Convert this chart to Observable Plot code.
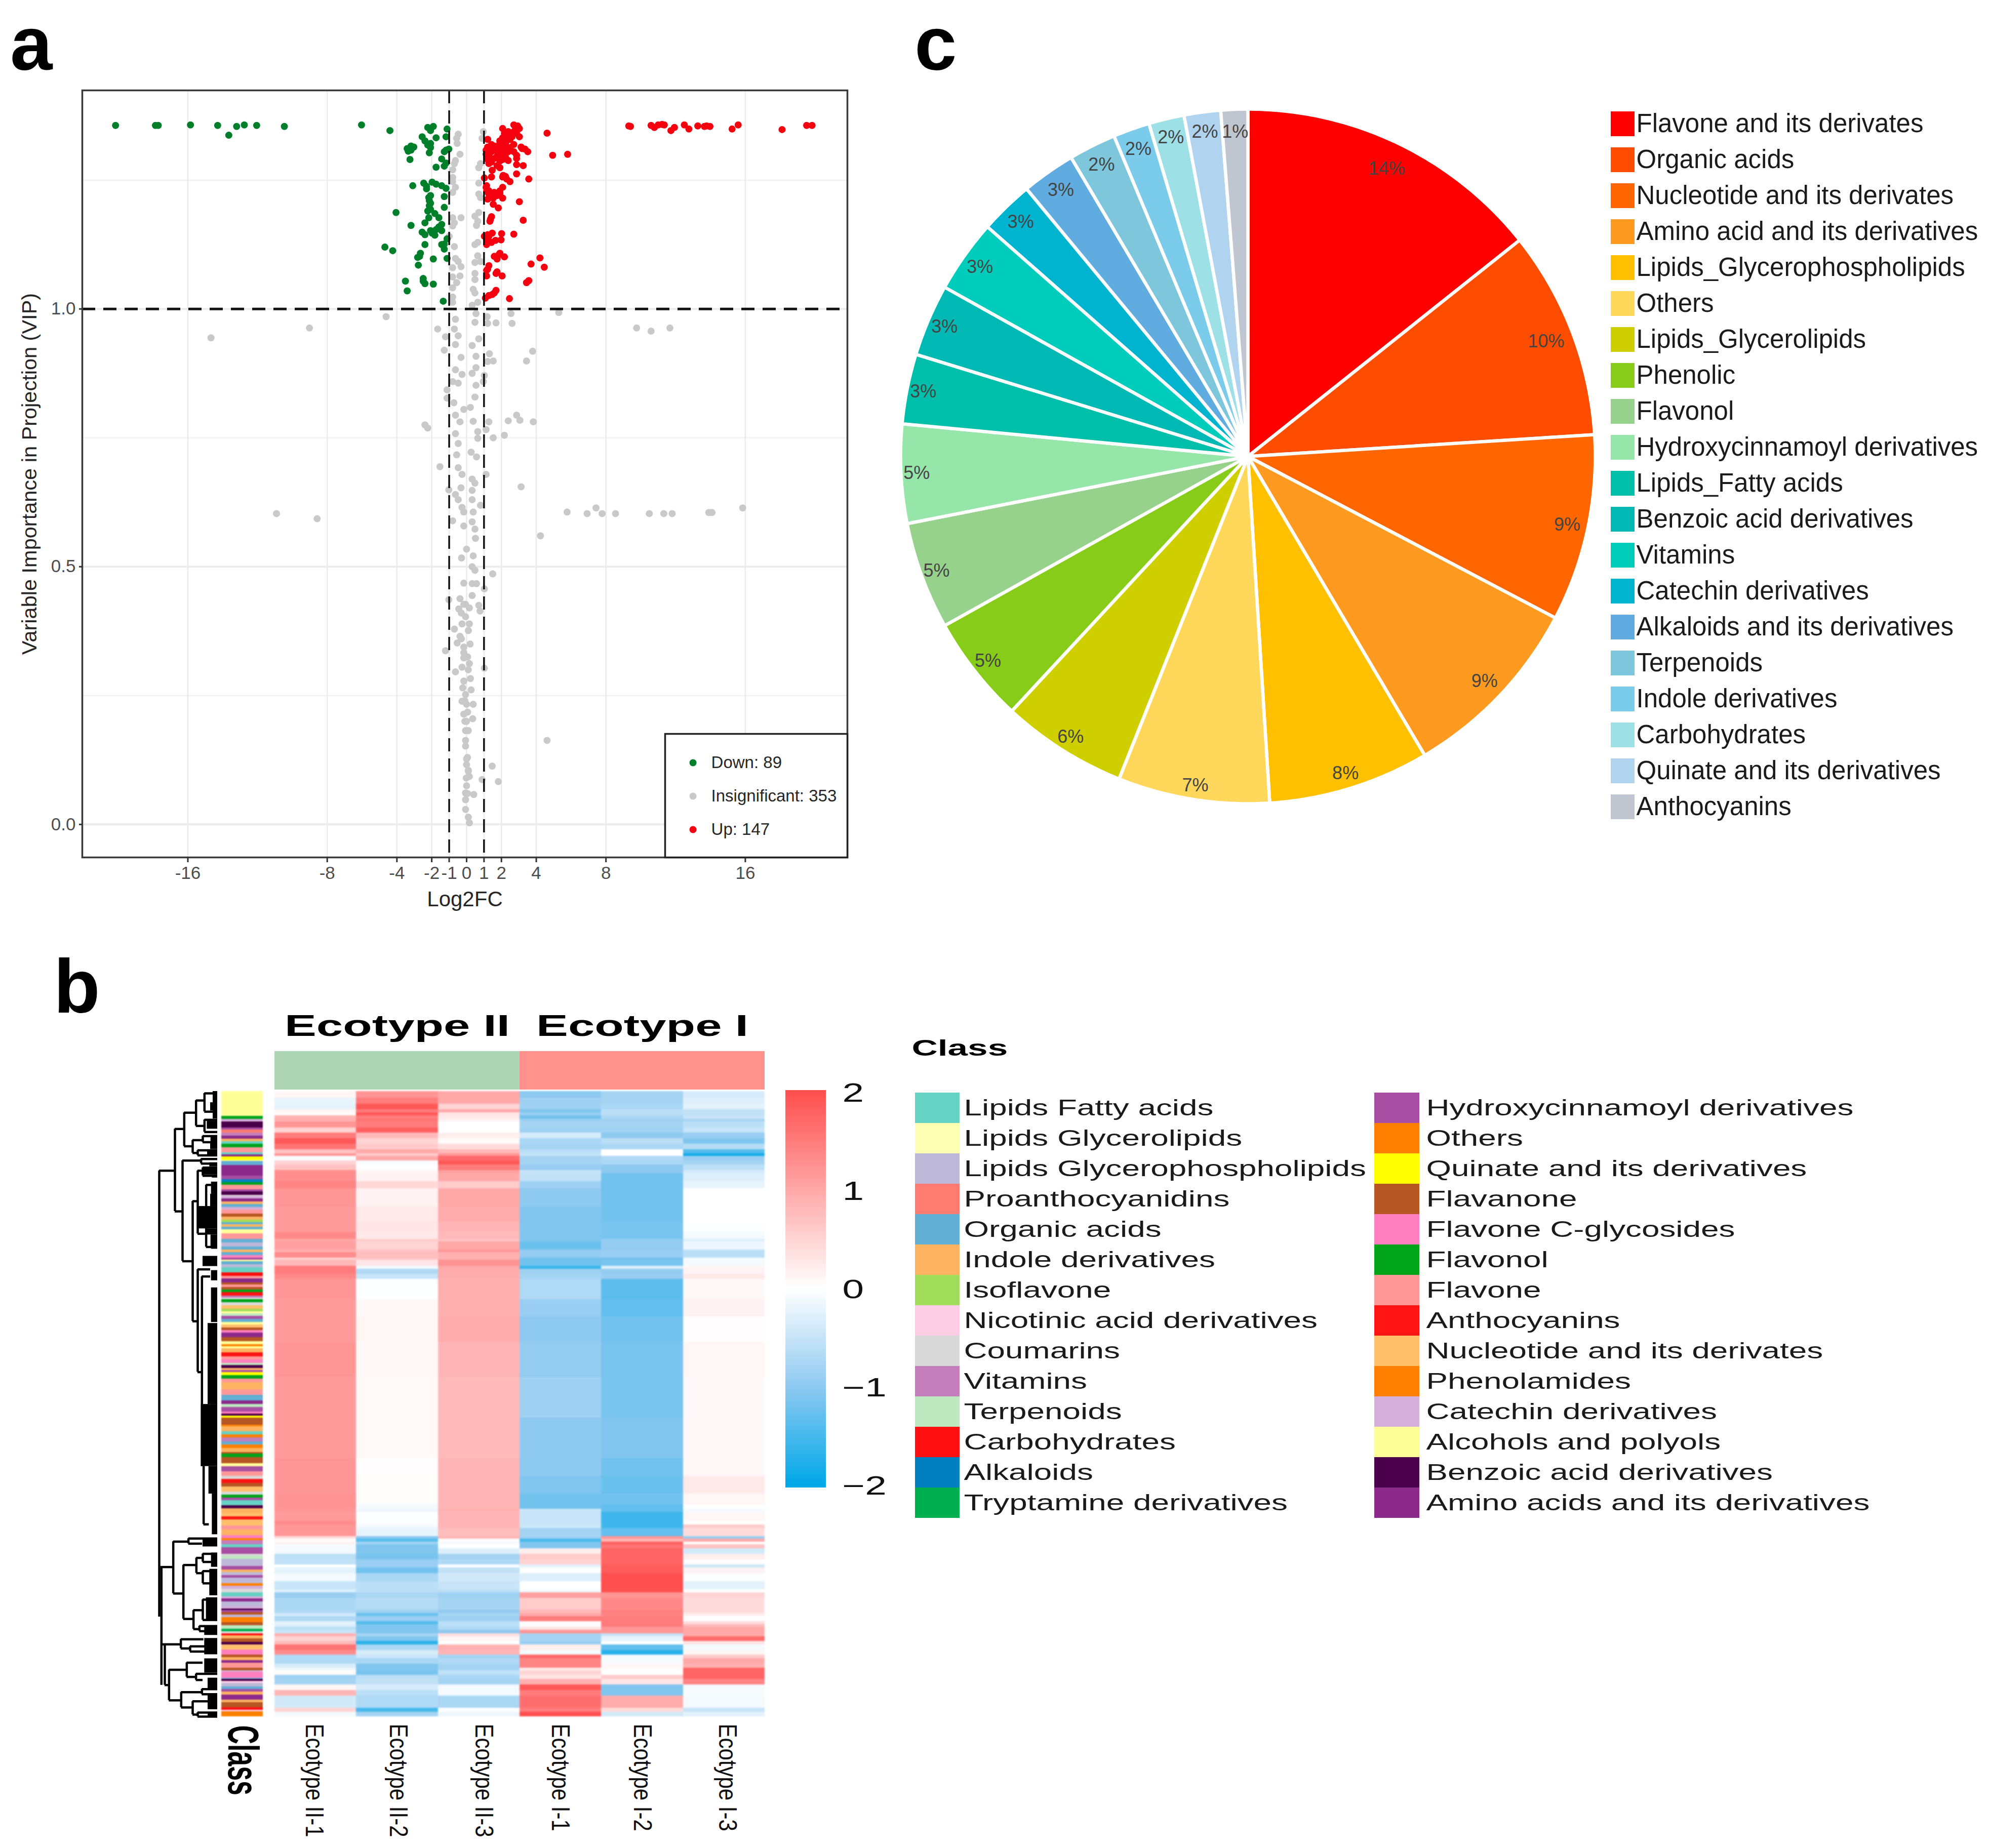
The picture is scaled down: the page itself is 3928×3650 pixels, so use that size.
<!DOCTYPE html>
<html>
<head>
<meta charset="utf-8">
<script src="https://cdn.jsdelivr.net/npm/d3@7"></script>
<script src="https://cdn.jsdelivr.net/npm/@observablehq/plot@0.6"></script>
<style>
html,body{margin:0;padding:0;background:#fff}
#page{position:relative;width:3928px;height:3650px;overflow:hidden;background:#fff;font-family:"Liberation Sans",Arial,sans-serif}
#page>*{position:absolute}
.panel{font-weight:700;font-size:150px;line-height:.68;color:#000}
</style>
</head>
<body>
<div id="page"></div>
<script>
/* ---------- panel a: volcano ---------- */
const xTicks = [-16,-8,-4,-2,-1,0,1,2,4,8,16];
const yTicks = [0,0.5,1];
const yMinor = [0.25,0.75,1.25];
const volcanoLegend = ["Down: 89","Insignificant: 353","Up: 147"];
const volcanoColors = ["#007f2a","#c9c9c9","#f5000f"];
const down = [[-20.15,1.356],[-17.86,1.356],[-17.7,1.356],[-15.85,1.357],[-14.29,1.356],[-13.2,1.354],[-12.76,1.357],[-12.05,1.356],[-10.46,1.354],[-6.03,1.357],[-4.4,1.346],[-13.65,1.337],
[-2.23,1.352],[-1.91,1.354],[-2.07,1.346],[-1.12,1.349],[-2.55,1.334],[-1.75,1.332],[-1.18,1.334],[-2.39,1.326],[-2.07,1.321],[-3.19,1.316],[-3.41,1.311],[-3.03,1.314],[-3.35,1.306],[-2.07,1.313],[-2.14,1.303],[-1.02,1.31],[-1.28,1.305],[-3.25,1.29],[-1.43,1.291],[-1.18,1.283],[-1.28,1.277],[-1.75,1.275],[-3.09,1.239],[-2.46,1.244],[-1.98,1.246],[-1.75,1.242],[-1.43,1.239],[-1.18,1.234],[-2.3,1.233],[-1.28,1.218],[-2.07,1.22],[-2.14,1.21],[-2.14,1.2],[-1.28,1.197],[-2.07,1.193],[-4.05,1.187],[-1.82,1.185],[-1.59,1.177],[-2.17,1.177],[-2.39,1.167],[-3.19,1.162],[-1.43,1.164],[-1.75,1.154],[-2.07,1.152],[-2.55,1.149],[-1.43,1.152],[-2.39,1.144],[-1.82,1.143],[-1.12,1.136],[-2.39,1.125],[-1.43,1.125],[-1.28,1.116],[-4.69,1.12],[-4.24,1.113],[-2.65,1.108],[-2.81,1.1],[-1.91,1.097],[-1.12,1.098],[-2.77,1.085],[-3.51,1.054],[-2.49,1.059],[-2.39,1.049],[-1.91,1.048],[-3.41,1.035],[-1.34,1.015],
[-2.17,1.216],[-2.07,1.205],[-2.23,1.19],[-1.59,1.159],[-1.98,1.147],[-2.7,1.102],[-2.49,1.054],[-1.28,1.126],[-2.3,1.238],[-1.18,1.308],[-3.19,1.308],[-2.23,1.318]];
const up = [[9.31,1.355],[9.41,1.354],[10.59,1.356],[10.78,1.352],[11.0,1.357],[11.22,1.358],[11.35,1.357],[11.73,1.346],[11.93,1.352],[12.5,1.357],[12.76,1.349],[13.27,1.355],[13.65,1.354],[13.78,1.355],[13.97,1.354],[15.24,1.349],[15.59,1.357],[18.11,1.348],[19.52,1.356],[19.83,1.356],
[2.71,1.357],[2.93,1.355],[2.81,1.349],[3.03,1.35],[2.07,1.35],[2.39,1.344],[2.17,1.341],[2.87,1.341],[3.03,1.334],[2.61,1.334],[2.07,1.332],[2.3,1.326],[4.62,1.341],[1.21,1.329],[2.49,1.329],[1.91,1.321],[1.43,1.319],[1.21,1.314],[1.66,1.311],[2.07,1.311],[2.49,1.313],[3.13,1.314],[3.35,1.31],[3.51,1.305],[1.12,1.308],[1.43,1.305],[1.91,1.303],[2.39,1.305],[2.87,1.298],[2.87,1.292],[4.94,1.298],[5.8,1.3],[1.28,1.298],[1.75,1.296],[2.23,1.295],[1.21,1.29],[1.91,1.287],[2.39,1.288],[1.28,1.282],[1.75,1.278],[2.87,1.28],[3.25,1.278],[1.47,1.269],[1.91,1.274],[2.87,1.262],[2.1,1.259],[1.43,1.256],[2.3,1.252],[2.49,1.247],[3.57,1.252],[1.02,1.254],[1.15,1.239],[2.07,1.236],[1.91,1.229],[1.15,1.228],[1.59,1.226],[1.28,1.223],[1.75,1.22],[2.07,1.215],[1.53,1.215],[1.21,1.213],[3.03,1.208],[1.53,1.203],[1.82,1.196],[1.37,1.174],[3.25,1.172],[1.21,1.144],[2.01,1.146],[2.71,1.145],[1.02,1.141],[1.66,1.133],[1.98,1.134],[1.21,1.131],[1.15,1.125],[1.85,1.105],[1.59,1.102],[2.17,1.101],[4.21,1.099],[3.7,1.087],[4.46,1.081],[1.28,1.084],[1.15,1.075],[1.69,1.069],[2.04,1.064],[1.15,1.064],[3.57,1.055],[1.69,1.036],[1.47,1.028],[1.08,1.021],[2.46,1.02],
[2.55,1.339],[2.71,1.344],[2.39,1.337],[2.23,1.331],[1.91,1.326],[1.59,1.316],[2.23,1.319],[2.71,1.319],[1.75,1.306],[2.07,1.301],[1.59,1.292],[1.43,1.285],[2.07,1.29],[1.12,1.3],[1.34,1.31],[2.71,1.305],[2.23,1.308],[1.85,1.314],[2.07,1.256],[2.23,1.257],[1.28,1.229],[1.43,1.218],[1.91,1.224],[1.12,1.236],[1.34,1.17],[1.43,1.179],[1.28,1.141],[1.47,1.147],[1.43,1.129],[1.91,1.108],[1.75,1.097],[1.21,1.077],[1.75,1.072],[1.59,1.031],[1.28,1.026],[3.44,1.051],[3.19,1.311]];
const insignificant = [[-.48,1.339],[-.57,1.331],[-.54,1.321],[.96,1.344],[.89,1.331],[-.38,1.3],[-.64,1.288],[-.7,1.282],[.8,1.282],[.7,1.274],[-.8,1.27],[-.8,1.255],[-.8,1.247],[.7,1.244],[-.64,1.236],[-.8,1.226],[.7,1.223],[.8,1.216],[-.8,1.177],[-.32,1.177],[.48,1.18],[.7,1.187],[.64,1.17],[.57,1.162],[-.7,1.167],[-.8,1.161],[-1,1.141],[.64,1.129],[.48,1.125],[-.7,1.121],[.64,1.103],[-.64,1.098],[-.48,1.092],[.48,1.09],[.8,1.092],[-.8,1.08],[-.32,1.082],[-.8,1.062],[-.38,1.064],[.48,1.069],[.48,1.057],[-.57,1.051],[-.8,1.041],[.38,1.038],[.48,1.031],[-.8,1.023],[-.8,1.013],[.64,1.013],[.32,1.007],
[5.29,.993],[-4.62,.985],[-9.02,.963],[-14.67,.944],[9.76,.963],[10.59,.957],[11.67,.963],[2.55,.991],[2.61,.972],[1.69,.973],[1.21,.972],[1.18,.985],[.54,.991],[.48,.974],[-.64,.98],[-1.66,.961],[-.7,.961],[-.48,.948],[-1.21,.946],[-.64,.931],[.32,.929],[.7,.942],[-1.28,.92],[-.32,.906],[.54,.908],[1.31,.913],[1.21,.898],[1.53,.899],[3.44,.899],[3.79,.918],[-.64,.882],[-.26,.873],[.32,.875],[.54,.886],[1.02,.871],[.96,.859],[.54,.852],[-.8,.859],[-.48,.856],[-1.12,.843],[-1.12,.827],[.48,.829],[-.73,.818],[-.16,.805],[.22,.809],[-.64,.794],[-.38,.781],[.38,.782],[1.28,.781],[2.39,.783],[2.87,.794],[3.06,.784],[3.83,.781],[-2.39,.775],[-2.23,.769],[1.12,.766],[.64,.762],[-.64,.758],[.64,.749],[1.53,.75],[2.17,.755],[-.48,.739],[-.57,.717],[.26,.722],[.57,.713],[-1.53,.694],[-.48,.692],[-.26,.679],[1.12,.679],[.32,.67],[.48,.662],[3.13,.655],[-1.02,.649],[-.32,.653],[.32,.648],[-.64,.64],[-.48,.63],[.32,.63],[.8,.619],[-.26,.615],[.38,.606],[-.16,.606],[5.77,.606],[6.92,.603],[7.43,.614],[7.78,.603],[8.55,.603],[10.49,.603],[11.32,.603],[11.8,.603],[13.9,.605],[14.09,.605],[15.85,.614],[-10.91,.603],[-8.58,.593],[-.8,.589],[.32,.587],[-.16,.579],[.48,.573],[4.24,.56],[.51,.555],[0,.534],[.38,.521],[-.29,.517],[.32,.5],[.48,.493],[1.5,.486],[-.16,.468],[.32,.467],[.57,.467],[1.02,.457],[-1.02,.436],[-.38,.438],[.32,.444],[-.16,.427],
[-.06,.427],[-.45,.418],[.7,.425],[.77,.414],[.16,.42],[-.06,.403],[-.26,.389],[.16,.389],[-.7,.379],[.1,.376],[-.38,.365],[-.54,.352],[-.16,.344],[-1.21,.337],[-.16,.333],[.06,.325],[-.16,.323],[.16,.312],[-.26,.305],[1.02,.303],[-.64,.296],[.22,.283],[-.16,.278],[-.22,.265],[.26,.261],[-.06,.252],[-.26,.239],[.38,.233],[0,.233],[-.16,.214],[.06,.218],[.35,.205],[0,.2],[-.06,.182],[.1,.182],[-.06,.163],[-.06,.152],[4.62,.163],[0,.127],[0,.116],[1.47,.113],[.1,.103],[.16,.093],[.89,.087],[1.82,.083],[0,.075],[-.06,.061],[.41,.058],[-.06,.048],[-.06,.029],[.1,.014],[.16,.003],
[-.1,.24],[.1,.3],[-.3,.36],[.05,.13],[.05,.06],[-.1,.2],[.2,.35],[-.3,.41],[.1,.105],[-.02,.09]];

/* ---------- panel c: pie ---------- */
const pieNames = ["Flavone and its derivates","Organic acids","Nucleotide and its derivates","Amino acid and its derivatives","Lipids_Glycerophospholipids","Others","Lipids_Glycerolipids","Phenolic","Flavonol","Hydroxycinnamoyl derivatives","Lipids_Fatty acids","Benzoic acid derivatives","Vitamins","Catechin derivatives","Alkaloids and its derivatives","Terpenoids","Indole derivatives","Carbohydrates","Quinate and its derivatives","Anthocyanins"];
const pieValues = [14.3,9.7,8.7,8.8,7.5,7.05,5.85,5,5,4.6,3.25,3.35,3.4,2.5,2.5,2.2,1.7,1.65,1.7,1.25];
const pieLabels = ["14%","10%","9%","9%","8%","7%","6%","5%","5%","5%","3%","3%","3%","3%","3%","2%","2%","2%","2%","1%"];
const pieLabelRadius = [.92,.92,.94,.94,.955,.96,.955,.952,.955,.955,.953,.95,.945,.94,.937,.94,.94,.945,.943,.935];
const pieColors = ["#ff0000","#ff4d00","#ff6600","#ff9a20","#ffc000","#ffd75a","#cfcf00","#88cc1a","#96d28c","#96e6aa","#00bfaa","#00b9b4","#00ccbb","#00b4d0","#60ace0","#7ec6dc","#7accea","#9de0e6","#b0d4f0","#c0c6d0"];

/* ---------- panel b: heat map ---------- */
const sampleNames = ["Ecotype II-1","Ecotype II-2","Ecotype II-3","Ecotype I-1","Ecotype I-2","Ecotype I-3"];
const sampleLabelShift = [-.02,.01,.056,-.01,0,.04];
const groupNames = ["Ecotype II","Ecotype I"];
const groupSpans = [[0,3],[3,6]];
const groupColors = ["#aed6b6","#ff928c"];
const heatColors = ["#00a8e8","#8ec9f0","#ffffff","#ffa8a8","#ff4f4f"];
const heatDomain = [-2,-1,0,1,2];
const scaleTicks = [2,1,0,-1,-2];
/* each row: last row index of the band, then the six sample z-scores */
const heatRowsUpper = [
[55,.1,1.2,1,-1,-.8,-.35],[90,-.2,1.5,1,-.85,-.8,-.3],[122,-.25,1.9,.5,-.85,-.75,-.25],[140,.1,1.5,1,-1.1,-.6,-.55],[158,.05,1.9,.3,-.9,-.6,-.55],[180,.9,1.5,.25,-1.2,-.75,-.5],[195,.9,1.6,.15,-.85,-.85,-.8],[230,1.2,1.5,0,-.8,-.8,-.6],[262,.5,1.8,0,-.85,-.85,-.5],[295,1.5,.8,.2,-.35,-1,-.9],[327,1.9,.5,.05,-.75,-.6,-1.1],[360,1.6,.6,.4,-.8,-.75,-.65],[385,.7,1,.8,-.6,0,-1.4],[400,1.2,.6,1.2,-.5,0,-1.9],[425,-.05,1,1.7,-.8,-.7,-.9],[450,.5,-.05,1.9,-.8,-.75,-.8],[482,.7,0,1.5,-.9,-1,-.6],[500,1.3,.1,1.1,-.5,-1,-.4],[548,1.3,.15,1,-.55,-1.2,-.3],[590,1.4,.45,.6,-.85,-1.2,-.2],[700,1.2,.15,1,-1,-1.2,0],[790,1.15,.25,.95,-1.1,-1.2,0],[850,1.15,.3,.85,-1.1,-1.15,-.02],[890,1.35,.25,.8,-1.1,-1.15,-.1],[905,1,.6,.7,-1.1,-.95,-.3],[955,1.1,.5,1,-1.25,-.95,-.15],[970,.9,.7,1.2,-.95,-.9,-.6],[1003,1.3,.75,.9,-.95,-.9,-.6],[1015,.5,.7,.9,-1.2,-1.2,-.1],[1050,.8,.3,1.25,-1.2,-1.15,-.1],[1068,1.5,-.1,1,-1.6,-.3,.1],[1098,1.5,-.7,.95,-.85,-.95,.15],[1128,1.35,-.5,.95,-.8,-.9,.25],[1250,1.2,-.02,.9,-.7,-1.35,.08],[1350,1.15,.08,.9,-.9,-1.3,.15],[1500,1.15,.1,.95,-1,-1.2,.02],
[1710,1.2,.08,.85,-.95,-1.15,.1],[1950,1.15,.07,.8,-.85,-1.15,.08],[2190,1.15,.07,.8,-1,-1.1,.08],[2295,1.2,.02,.85,-1,-1.2,.08],[2400,1.2,.03,.85,-1.1,-1.25,.25],[2463,1.25,.03,.85,-1.2,-1.2,.1],[2490,1.25,-.1,.85,-1.2,-1.3,0]];
const heatRowsLower = [
[2510,1.2,-.15,.9,-.45,-1.3,-.1],[2560,1.15,-.02,.85,-.5,-1.55,.1],[2585,1.3,-.03,.85,-.5,-1.55,0],[2605,1.2,-.1,.85,-.45,-1.55,.6],[2652,1.2,-.2,.75,-.8,-1.3,.4],[2668,.4,-1,.85,-.85,1.2,-.9],[2685,.05,-1.4,-.02,-1.5,.85,1],[2702,.15,-.8,-.1,-1.1,1.8,0],[2725,-.1,-1.1,0,-1.1,1.6,.7],[2758,-.1,-1.1,-.3,.2,1.75,-.4],[2790,-.6,-1.15,-.8,.6,1.75,.2],[2822,-.55,-.9,-.7,.5,1.75,.02],[2840,0,-.9,-.05,-.25,1.85,-.45],[2872,-.25,-1.2,-.55,0,1.85,.15],[2922,-.1,-.75,-.4,-.3,2,-.02],[2970,-.5,-.6,-.5,0,2,-.25],[2987,-.3,-.6,-.6,-.1,2,0],[3020,-.9,-.75,-.85,1.1,1.2,.5],[3090,-.75,-.65,-.8,.6,1.35,.4],[3110,-.7,-.85,-.95,.8,1.45,.4],[3127,-.4,-1.25,-.8,1,1.4,.2],[3158,-.7,-.9,-.85,1.5,1.5,-.02],[3175,-.25,-1.4,-.6,.05,1.5,.4],[3190,-.3,-1.1,-.6,-.02,1.5,.8],[3208,-.6,-1.1,-.7,.3,1.2,1],[3230,-.5,-1.1,-1,1.2,1.2,1],[3248,.9,-.8,.4,-.8,-.5,1],[3275,.5,-1.1,.1,-.8,-.2,1.7],[3296,.8,-1.7,0,-.9,0,.3],[3328,1.6,-.75,.9,.2,-1.3,-.1],[3355,1.3,-.35,.85,-.1,-1.7,.1],[3378,-.7,-.45,-.8,1.7,-.1,.6],[3410,-.7,-.75,-.7,1.4,-.08,1],[3435,-.35,-1.1,-.8,1.4,.1,.9],[3450,-.15,-1.1,-.8,.2,.05,1.75],[3475,.05,-1.15,-.55,.5,0,1.75],[3500,-.85,-.6,-.75,.3,.6,1.75],[3533,-.8,-.55,-.8,.9,.3,1.4],[3565,.1,-.35,-.1,1.9,-1.1,-.08],[3598,.85,-.6,-.1,1.5,-1.1,-.05],[3670,-.4,-.7,-.75,1.65,.95,-.1],[3695,.5,-1.5,-.02,1.5,.4,-.5],[3722,-.1,-.8,-.15,2,-.4,-.25]];
const heatFirstRow = 15;

/* ---------- class annotation ---------- */
const classNames = ["Lipids Fatty acids","Lipids Glycerolipids","Lipids Glycerophospholipids","Proanthocyanidins","Organic acids","Indole derivatives","Isoflavone","Nicotinic acid derivatives","Coumarins","Vitamins","Terpenoids","Carbohydrates","Alkaloids","Tryptamine derivatives","Hydroxycinnamoyl derivatives","Others","Quinate and its derivatives","Flavanone","Flavone C-glycosides","Flavonol","Flavone","Anthocyanins","Nucleotide and its derivates","Phenolamides","Catechin derivatives","Alcohols and polyols","Benzoic acid derivatives","Amino acids and its derivatives"];
const classColors = ["#66d2c4","#ffffb3","#bdb8d8","#fd7b70","#62afd4","#fdb462","#a1dc5a","#fccde5","#d9d9d9","#c37ebb","#bde8c0","#ff1010","#0080c0","#00b050","#a84ea3","#ff7f00","#ffff00","#b65623","#ff7fbf","#00a41a","#ff9999","#ff1414","#ffbf6b","#ff8000","#d4afd9","#ffff99","#4a004a","#8b2a8b"];
/* [last row index of the stripe, class index] */
const classStripes = [[138,25],[152,19],[165,24],[195,26],[205,14],[220,3],[235,9],[248,27],[262,5],[275,0],[290,19],[315,20],[325,0],[337,27],[353,16],[358,25],[378,4],[430,27],[448,14],[462,12],[475,19],[497,20],[508,14],[525,26],[530,8],[543,24],[557,27],[570,5],[585,4],[598,24],[618,20],[632,17],[647,5],[660,6],[670,4],[682,5],[695,4],[715,25],[742,20],[760,4],[780,2],[793,4],[806,5],[820,4],[833,18],[843,14],[852,25],[866,4],[882,2],[906,0],[922,11],[935,20],[955,27],[965,17],[978,20],[990,17],[1004,19],[1020,21],[1030,9],[1038,8],[1053,19],[1068,8],[1085,22],[1097,6],[1108,25],[1120,10],[1135,14],[1150,4],[1162,25],[1177,22],[1190,17],[1203,18],[1225,27],[1245,17],[1258,25],[1268,15],[1280,25],[1300,5],[1318,21],[1335,20],[1350,18],[1362,10],[1375,26],[1385,5],[1397,14],[1412,16],[1428,19],[1445,20],[1480,5],[1508,20],[1535,4],[1553,27],
[1567,10],[1591,14],[1601,18],[1609,26],[1619,16],[1635,17],[1655,17],[1663,23],[1688,5],[1703,0],[1716,23],[1736,9],[1751,4],[1768,23],[1788,5],[1796,17],[1813,19],[1845,17],[1859,25],[1883,14],[1905,20],[1921,8],[1941,21],[1958,17],[1983,22],[1998,8],[2013,19],[2026,14],[2051,0],[2065,26],[2088,5],[2105,22],[2121,21],[2151,22],[2171,20],[2196,5],[2211,18],[2223,23],[2243,9],[2256,0],[2290,14],[2298,8],[2313,10],[2350,2],[2366,14],[2378,5],[2393,2],[2406,14],[2433,2],[2445,23],[2461,24],[2478,8],[2499,0],[2509,24],[2523,27],[2548,2],[2558,24],[2565,26],[2575,14],[2588,17],[2601,2],[2625,15],[2641,17],[2658,10],[2671,13],[2679,8],[2691,21],[2705,5],[2723,17],[2735,26],[2759,22],[2785,18],[2798,17],[2811,5],[2825,27],[2848,20],[2861,17],[2869,24],[2898,18],[2905,4],[2915,26],[2925,7],[2941,2],[2953,4],[2965,14],[2981,5],[3005,27],[3018,5],[3043,17],[3056,21],[3062,7],[3088,15]];
const classFirstRow = 15;

/* ---------- dendrogram: [distance, row from, row to] and [distance from, distance to, row] ---------- */
const dendroV = [[345,405,2598],[252,200,605],[197,120,285],[127,60,185],[77,25,115],[77,155,215],[147,255,318],[87,235,265],[117,305,330],[207,355,850],[97,348,370],[147,555,1145],[117,405,715],[87,390,430],[67,475,780],[117,890,1395],[92,925,1858],[82,1858,2143],[262,2228,2483],[172,2213,2238],[202,2343,2608],[125,2308,2383],[87,2288,2328],[87,2373,2433],[142,2565,2658],[87,2513,2613],[107,2643,2668],[332,2353,2933],[217,2708,2753],[162,2743,2768],[312,2733,2933],[287,2858,3008],[182,2823,2893],[127,2878,2908],[215,2968,3043],[92,2953,2978],[147,3013,3078],[117,3068,3088]];
const dendroH = [[345,252,405],[252,197,200],[252,207,605],[197,127,120],[127,77,60],[77,0,25],[77,0,115],[127,77,185],[77,0,155],[77,0,215],[197,147,285],[147,87,255],[87,0,235],[87,0,265],[147,117,318],[117,0,305],[117,0,330],[207,97,355],[97,0,348],[97,0,370],[207,147,850],[147,117,555],[117,87,405],[87,0,390],[87,0,430],[117,67,715],[67,0,475],[67,0,780],[147,117,1145],[117,42,890],[117,92,1395],[92,42,925],[82,50,2143],[337,267,2353],[262,172,2228],[172,0,2213],[172,90,2238],[262,202,2483],[202,125,2343],[125,87,2308],[87,0,2288],[87,0,2328],[125,87,2383],[87,0,2373],[87,0,2433],[202,142,2608],[142,87,2565],[87,0,2513],[87,0,2613],[142,107,2658],[107,0,2643],[107,0,2668],[332,217,2733],[217,82,2708],[217,162,2753],[162,0,2743],[162,0,2768],[312,287,2933],[287,182,2858],[182,87,2823],[182,127,2893],[127,0,2878],[127,87,2908],[287,215,3008],[215,92,2968],[92,0,2953],[92,0,2978],[215,147,3043],[147,0,3013],[147,117,3078],[117,0,3068],[117,0,3088]];
/* densely merged leaves: [distance from, distance to, row from, row to] */
const dendroLeaves = [[27,0,15,150],[42,0,70,110],[62,0,155,200],[40,0,240,265],[42,0,270,300],[60,0,305,330],[47,0,365,385],[87,0,390,425],[32,0,425,440],[37,0,460,520],[42,0,520,580],[117,0,580,690],[67,0,690,720],[40,0,720,780],[37,0,770,790],[87,0,825,875],[37,0,895,945],[37,0,980,1150],[57,0,1155,1553],[97,0,1553,1858],[52,0,1858,1993],[32,0,1993,2193],[87,0,2213,2253],[37,0,2283,2353],[47,0,2363,2493],[67,0,2503,2613],[77,0,2643,2688],[77,0,2703,2783],[77,0,2803,2873],[57,0,2898,2953],[57,0,2983,3053],[57,0,3073,3088]];

/* ---------- helpers ---------- */
const page = document.getElementById("page");
const FONT = '"Liberation Sans",Arial,sans-serif';
function place(node,left,top){node.style.left=left+"px";node.style.top=top+"px";page.appendChild(node);return node;}
function base(o){return Object.assign({margin:0,style:{background:"transparent",fontFamily:FONT,overflow:"visible"}},o);}
function stretch(svg,sx){
  d3.select(svg).selectAll("text").attr("transform",function(){return (this.getAttribute("transform")||"")+` scale(${sx},1)`;});
  return svg;
}
function soften(svg,px){svg.style.filter=`blur(${px}px)`;return svg;}
function panelLetter(t,left,top){const d=document.createElement("div");d.className="panel";d.textContent=t;place(d,left,top);}
function swatchLegend(names,colors,{sw,h,gap,fs,sx=1,textW,inset=0}){
  const svg=Plot.plot(base({width:sw+gap+textW,height:h,
    x:{domain:[0,1],range:[0,sw],axis:null},
    y:{type:"band",domain:names,range:[0,h],padding:0,axis:null},
    color:{type:"ordinal",domain:names,range:colors},
    marks:[
      Plot.barX(names,{x1:()=>0,x2:()=>1,y:d=>d,fill:d=>d,insetTop:inset,insetBottom:inset}),
      Plot.text(names,{x:()=>1,y:d=>d,text:d=>d,dx:gap,textAnchor:"start",fontSize:fs,fill:"#1a1a1a"})
    ]}));
  return sx===1?svg:stretch(svg,sx);
}

/* ---------- panel a ---------- */
panelLetter("a",20,35);
place(Plot.plot(base({
  width:1720,height:1700,marginLeft:162,marginRight:47,marginTop:48,marginBottom:137,
  x:{domain:[-22.06,21.86]},
  y:{domain:[-0.064,1.424]},
  marks:[
    Plot.ruleY(yMinor,{stroke:"#f3f3f3",strokeWidth:3}),
    Plot.ruleY(yTicks,{stroke:"#ececec",strokeWidth:4}),
    Plot.ruleX(xTicks,{stroke:"#ebebeb",strokeWidth:2.5}),
    Plot.dot(insignificant,{x:d=>d[0],y:d=>d[1],r:7,fill:volcanoColors[1]}),
    Plot.dot(down,{x:d=>d[0],y:d=>d[1],r:7,fill:volcanoColors[0]}),
    Plot.dot(up,{x:d=>d[0],y:d=>d[1],r:7,fill:volcanoColors[2]}),
    Plot.ruleY([1],{stroke:"#111",strokeWidth:5,strokeDasharray:"26,16"}),
    Plot.ruleX([-1,1],{stroke:"#111",strokeWidth:3.5,strokeDasharray:"26,14"}),
    Plot.frame({stroke:"#3a3a3a",strokeWidth:3.5}),
    Plot.axisX(xTicks,{tickFormat:d=>String(d),label:null,fontSize:35,tickSize:10,tickPadding:8,stroke:"#333",strokeWidth:3,fill:"#4d4d4d"}),
    Plot.axisY(yTicks,{tickFormat:d=>d.toFixed(1),label:null,fontSize:35,tickSize:6,tickPadding:7,stroke:"#333",strokeWidth:3,fill:"#4d4d4d"}),
    Plot.text(["Log2FC"],{frameAnchor:"bottom",lineAnchor:"middle",dy:83,fontSize:42,fill:"#262626"}),
    Plot.text(["Variable Importance in Projection (VIP)"],{frameAnchor:"left",textAnchor:"middle",lineAnchor:"middle",dx:-104,rotate:-90,fontSize:41.5,fill:"#262626"})
  ]})),0,130);
place(Plot.plot(base({
  width:360,height:244,
  x:{domain:[0,1],axis:null},
  y:{type:"point",domain:volcanoLegend,range:[56.6,190],padding:0,axis:null},
  marks:[
    Plot.frame({fill:"#fff",stroke:"#222",strokeWidth:3.5}),
    Plot.dot(volcanoLegend,{x:()=>.153,y:d=>d,r:7,fill:(d,i)=>volcanoColors[i]}),
    Plot.text(volcanoLegend,{x:()=>.253,y:d=>d,text:d=>d,textAnchor:"start",fontSize:33,fill:"#262626"})
  ]})),1313,1449);

/* ---------- panel c ---------- */
panelLetter("c",1806,35);
const total=d3.sum(pieValues);
const ends=Array.from(d3.cumsum(pieValues));
const wedgePts=pieNames.flatMap((name,i)=>{
  const a0=(i?ends[i-1]:0)/total*2*Math.PI, a1=ends[i]/total*2*Math.PI;
  const n=Math.max(2,Math.ceil((a1-a0)/0.01));
  return [{name,color:pieColors[i],x:0,y:0},...d3.range(n+1).map(k=>{
    const a=a0+(a1-a0)*k/n;return {name,color:pieColors[i],x:Math.sin(a),y:Math.cos(a)};
  })];
});
const labelPts=pieNames.map((name,i)=>{
  const a=((i?ends[i-1]:0)+ends[i])/2/total*2*Math.PI;
  return {label:pieLabels[i],x:pieLabelRadius[i]*Math.sin(a),y:pieLabelRadius[i]*Math.cos(a)};
});
place(Plot.plot(base({
  width:1440,height:1440,
  x:{domain:[-1.0496,1.0496],axis:null},
  y:{domain:[-1.0496,1.0496],axis:null},
  color:{type:"identity"},
  marks:[
    Plot.line(wedgePts,{x:"x",y:"y",z:"name",fill:d=>d.color,stroke:"#fff",strokeWidth:6.5,curve:"linear-closed",strokeLinejoin:"round"}),
    Plot.text(labelPts,{x:"x",y:"y",text:"label",fontSize:36,fill:"#444"})
  ]})),1744,181);
place(swatchLegend(pieNames,pieColors,{sw:47,h:1424,gap:3,fs:51,textW:700,inset:11}),3181,207);

/* ---------- panel b ---------- */
panelLetter("b",106,1897);
/* group headers */
place(stretch(Plot.plot(base({
  width:968,height:92,
  x:{type:"band",domain:groupNames,padding:0,axis:null},
  marks:[Plot.text(groupNames,{x:d=>d,text:d=>d,frameAnchor:"middle",fontSize:60,fontWeight:700,fill:"#000"})]
})),1.57),542,1980);
/* group strip */
place(Plot.plot(base({
  width:968,height:76,
  x:{domain:[0,6],axis:null},
  color:{type:"identity"},
  marks:[Plot.rect(groupSpans,{x1:d=>d[0],x2:d=>d[1],fill:(d,i)=>groupColors[i]})]
})),542,2076);
/* heat map cells */
const heatRows=heatRowsUpper.concat(heatRowsLower);
const heatCells=heatRows.flatMap((r,i)=>{
  const y1=i?heatRows[i-1][0]:heatFirstRow;
  return sampleNames.map((s,j)=>({col:j,y1,y2:r[0],v:r[j+1]}));
});
const heatColor={type:"linear",domain:heatDomain,range:heatColors};
place(soften(Plot.plot(base({
  width:968,height:1235,
  x:{domain:[0,6],axis:null},
  y:{domain:[heatFirstRow,heatRows[heatRows.length-1][0]],range:[0,1235],axis:null},
  color:heatColor,
  marks:[Plot.rect(heatCells,{x1:"col",x2:d=>d.col+1,y1:"y1",y2:"y2",fill:"v",shapeRendering:"crispEdges"})]
})),1.5),542,2155);
/* class stripes */
const stripes=classStripes.map((s,i)=>({y1:i?classStripes[i-1][0]:classFirstRow,y2:s[0],cls:classNames[s[1]]}));
place(soften(Plot.plot(base({
  width:82,height:1235,
  y:{domain:[classFirstRow,classStripes[classStripes.length-1][0]],range:[0,1235],axis:null},
  color:{type:"ordinal",domain:classNames,range:classColors},
  marks:[Plot.rect(stripes,{y1:"y1",y2:"y2",fill:"cls",shapeRendering:"crispEdges"})]
})),1.2),437,2155);
/* dendrogram */
place(Plot.plot(base({
  width:115,height:1235,
  x:{domain:[345,0],axis:null},
  y:{domain:[classFirstRow,classStripes[classStripes.length-1][0]],range:[0,1235],axis:null},
  marks:[
    Plot.rect(dendroLeaves,{x1:d=>d[0],x2:d=>d[1],y1:d=>d[2],y2:d=>d[3],fill:"#000"}),
    Plot.ruleX(dendroV,{x:d=>d[0],y1:d=>d[1],y2:d=>d[2],stroke:"#000",strokeWidth:4.5}),
    Plot.ruleY(dendroH,{x1:d=>d[0],x2:d=>d[1],y:d=>d[2],stroke:"#000",strokeWidth:4.5})
  ]})),314,2155);
/* colour scale */
const scaleSteps=d3.range(-2.015,2.02,.02);
place(stretch(Plot.plot(base({
  width:240,height:783,marginRight:160,
  y:{domain:[-2.015,2.02],axis:null},
  color:heatColor,
  marks:[
    Plot.rect(scaleSteps,{y1:d=>d,y2:d=>d+.025,fill:d=>d,shapeRendering:"crispEdges"}),
    Plot.text(scaleTicks,{y:d=>d,text:d=>d<0?`\u2212${-d}`:`${d}`,frameAnchor:"right",textAnchor:"start",dx:32,fontSize:51,fill:"#111"})
  ]})),1.5),1551,2155);
/* rotated labels */
place(stretch(Plot.plot(base({
  width:968,height:240,
  x:{domain:[0,6],axis:null},
  marks:[Plot.text(sampleNames,{x:(d,i)=>i+.5+sampleLabelShift[i],text:d=>d,frameAnchor:"top",lineAnchor:"middle",dy:9,rotate:90,textAnchor:"start",fontSize:50,fill:"#111"})]
})),.84),542,3395);
place(stretch(Plot.plot(base({
  width:200,height:220,
  x:{type:"band",domain:["Class"],padding:0,axis:null},
  marks:[Plot.text(["Class"],{x:d=>d,text:d=>d,frameAnchor:"top",lineAnchor:"middle",dy:12,rotate:90,textAnchor:"start",fontSize:85,fontWeight:700,fill:"#000"})]
})),.61),378,3395);
/* class legend */
place(stretch(Plot.plot(base({
  width:300,height:60,
  marks:[Plot.text(["Class"],{text:d=>d,frameAnchor:"left",textAnchor:"start",lineAnchor:"middle",fontSize:45,fontWeight:700,fill:"#000"})]
})),1.58),1800,2040);
const legendRows=14;
place(swatchLegend(classNames.slice(0,legendRows),classColors.slice(0,legendRows),{sw:88,h:845,gap:8,fs:44,sx:1.45,textW:810}),1807,2155);
place(swatchLegend(classNames.slice(legendRows),classColors.slice(legendRows),{sw:89,h:845,gap:13,fs:44,sx:1.45,textW:900}),2714,2155);
</script>
</body>
</html>
